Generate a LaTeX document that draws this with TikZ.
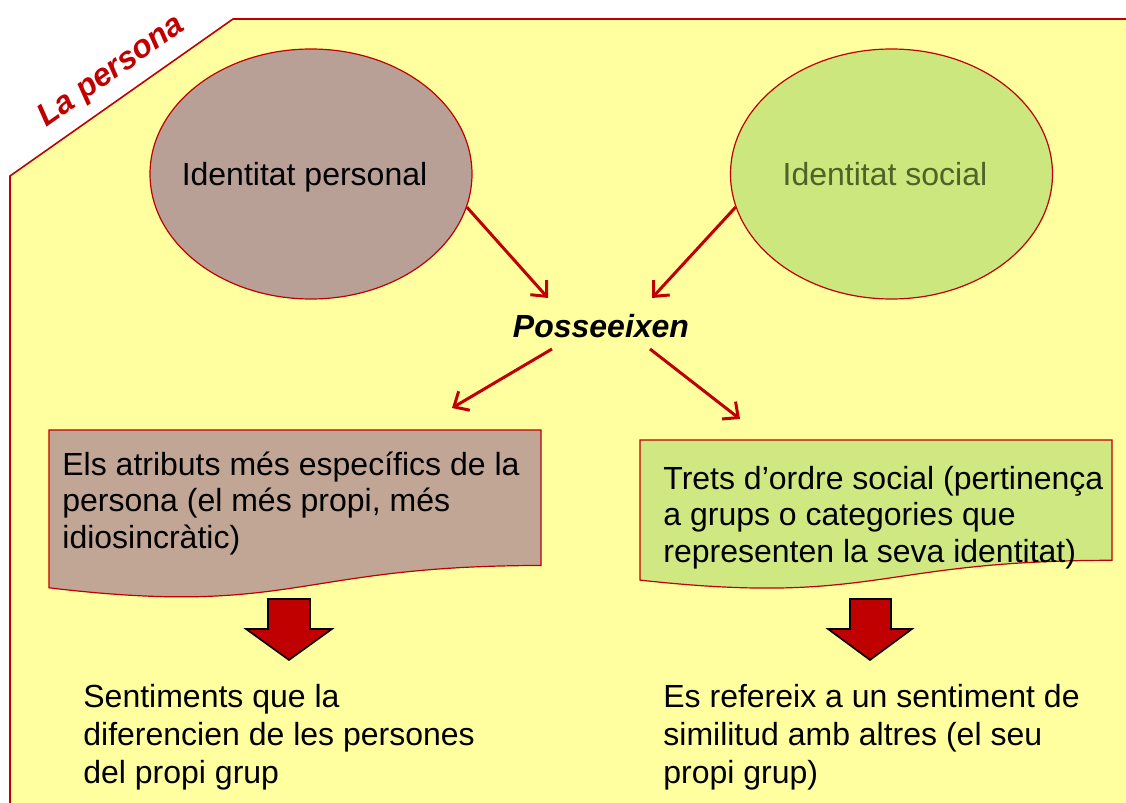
\documentclass[tikz,border=0pt]{standalone}
\usepackage{fontspec}
\setmainfont{Liberation Sans}
\usetikzlibrary{arrows.meta,shapes.geometric}
\definecolor{bgyel}{HTML}{FFFF9F}
\definecolor{bord}{HTML}{C00000}
\definecolor{brownf}{HTML}{B9A097}
\definecolor{brownbox}{HTML}{C2A695}
\definecolor{greenf}{HTML}{CCE77D}
\definecolor{greenbox}{HTML}{D0E882}
\definecolor{greentxt}{HTML}{4F6228}
\definecolor{arrred}{HTML}{C00000}
\begin{document}
\begin{tikzpicture}[x=0.5pt,y=-0.5pt,
  bodytxt/.style={font=\fontsize{16}{18.25}\selectfont, align=left, anchor=base west, inner sep=0pt},
  lowtxt/.style={font=\fontsize{16}{19}\selectfont, align=left, anchor=base west, inner sep=0pt},
  idell/.style={ellipse, draw=bord, line width=0.6pt, minimum width=161pt, minimum height=125pt,
     inner sep=0pt, text depth=0pt, font=\fontsize{16}{18}\selectfont},
  docbox/.style={draw=bord, line width=0.6pt},
  conn/.style={draw=arrred, line width=1.5pt, -{Straight Barb[length=6pt,width=11pt,line width=1.5pt]}},
  blockarrow/.style={draw=black, line width=0.8pt, fill=arrred, line join=miter}
]
\useasboundingbox (0,0) rectangle (1126,803);
% background panel
\fill[white] (0,0) rectangle (1126,803);
\fill[bgyel] (10,803) -- (10,176) -- (233,19) -- (1126,19) -- (1126,803) -- cycle;
\draw[bord, line width=0.8pt] (10,803) -- (10,176) -- (233,19) -- (1126,19);
\node[rotate=35, text=bord, font=\fontsize{16}{18}\selectfont\bfseries\itshape] (title) at (112,72) {La persona};

% ellipses
\node[idell, fill=brownf] (e1) at (311,174) {\makebox[0pt]{\kern-6.5pt Identitat personal}};
\node[idell, fill=greenf, text=greentxt] (e2) at (891.5,174) {\makebox[0pt]{\kern-6.5pt Identitat social}};

% central word
\node[anchor=base, inner sep=0pt, font=\fontsize{16}{18}\selectfont\bfseries\itshape] (pos) at (601,337) {Posseeixen};

% arrow end coordinates
\coordinate (t1) at (548,298);
\coordinate (t2) at (652,298);
\coordinate (s3) at (552,349);
\coordinate (t3) at (452,408);
\coordinate (s4) at (650,349);
\coordinate (t4) at (740,419);

\draw[conn] (e1.-12) -- (t1);
\draw[conn] (e2.-168) -- (t2);
\draw[conn] (s3) -- (t3);
\draw[conn] (s4) -- (t4);

% document boxes
\path[docbox, fill=brownbox] (49,430) -- (541,430) -- (541,565.5)
   .. controls (295,565.5) and (295,617.2) .. (49,587.8) -- cycle;
\path[docbox, fill=greenbox] (640,440) -- (1112,440) -- (1112,560.3)
   .. controls (876,560.3) and (876,606.1) .. (640,580.1) -- cycle;

% multi-line nodes: base anchor sits on the last line
\node[bodytxt] (bl) at (62,548) {Els atributs més específics de la\\persona (el més propi, més\\idiosincràtic)};
\node[bodytxt] (br) at (663,562) {Trets d’ordre social (pertinença\\a grups o categories que\\representen la seva identitat)};

% block arrows
\path[blockarrow] (268,599) -- (310,599) -- (310,629) -- (332,629) -- (289,660) -- (246,629) -- (268,629) -- cycle;
\path[blockarrow] (850,599) -- (891,599) -- (891,629) -- (912,629) -- (870,660) -- (828,629) -- (850,629) -- cycle;

% bottom texts
\node[lowtxt] (ll) at (83,783) {Sentiments que la\\diferencien de les persones\\del propi grup};
\node[lowtxt] (lr) at (663,783) {Es refereix a un sentiment de\\similitud amb altres (el seu\\propi grup)};
\end{tikzpicture}
\end{document}
